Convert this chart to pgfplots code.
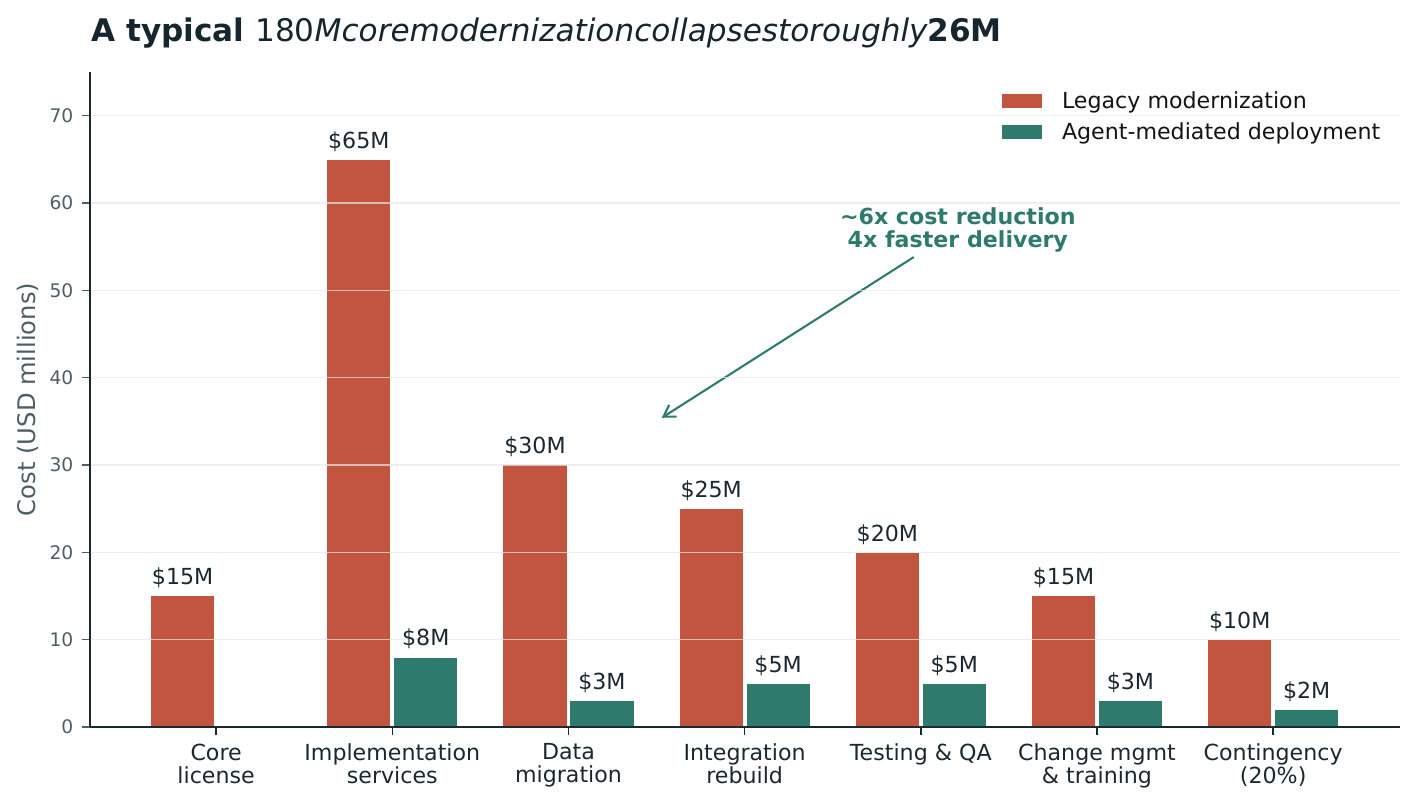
\documentclass[border=0pt]{standalone}
\usepackage{fontspec}
\setmainfont{DejaVu Sans}
\usepackage{pgfplots}
\pgfplotsset{compat=1.18}
\usetikzlibrary{arrows.meta}
\definecolor{legacy}{HTML}{C1553F}
\definecolor{agent}{HTML}{2E7B6E}
\definecolor{ink}{HTML}{1B2830}
\definecolor{titleink}{HTML}{16262E}
\definecolor{tickgray}{HTML}{4E5E66}
\begin{document}
\begin{tikzpicture}
\begin{axis}[
  scale only axis, width=943.2bp, height=471.6bp,
  xmin=-0.716, xmax=6.72, ymin=0, ymax=75,
  axis x line*=bottom, axis y line*=left,
  axis line style={draw=ink, line width=1.1bp},
  ytick={0,10,...,70}, xtick={0,...,6},
  xticklabels={Core\\license, Implementation\\services, Data\\migration, Integration\\rebuild, Testing \& QA, Change mgmt\\\& training, Contingency\\(20\%)},
  xticklabel style={align=center, font=\fontsize{16}{16.6}\selectfont, text=ink, yshift=-2.5bp},
  yticklabel style={font=\fontsize{13.5}{15}\selectfont, text=tickgray, xshift=-2.5bp},
  /pgf/number format/assume math mode=true,
  tick align=outside, major tick length=6bp,
  x tick style={draw=ink, line width=1bp},
  y tick style={draw=tickgray, line width=1bp},
  ymajorgrids, major grid style={draw=black!9, line width=1.1bp, opacity=0.7},
  axis on top,
  ylabel={Cost (USD millions)},
  every axis y label/.style={at={(rel axis cs:-0.0473,0.5)}, rotate=90, anchor=center,
    font=\fontsize{17.5}{20}\selectfont, text=tickgray},
  legend cell align=left,
  legend style={draw=none, fill=none, at={(1,1)}, anchor=north east,
    xshift=-9bp, yshift=-10bp, font=\fontsize{16}{19}\selectfont, text=black!92,
    row sep=4.5bp},
  legend image code/.code={\fill[#1, draw=none] (0bp,-5bp) rectangle (28.8bp,5bp);
    \path[draw=none, fill=none] (0bp,0bp) -- (41bp,0bp);},
  nodes near coords={\$\pgfmathprintnumber{\pgfplotspointmeta}M},
  every node near coord/.append style={anchor=base, yshift=8bp,
    font=\fontsize{16}{19}\selectfont, text=ink},
]
\addplot[ybar, fill=legacy, draw=white, line width=0.8bp, bar width=0.365, bar shift=-0.19,
  every node near coord/.append style={xshift=-24.1bp}]
  coordinates {(0,15) (1,65) (2,30) (3,25) (4,20) (5,15) (6,10)};
\addlegendentry{Legacy modernization}
\addplot[ybar, fill=agent, draw=white, line width=0.8bp, bar width=0.365, bar shift=0.19,
  every node near coord/.append style={xshift=24.1bp}]
  coordinates {(1,8) (2,3) (3,5) (4,5) (5,3) (6,2)};
\addlegendentry{Agent-mediated deployment}

\draw[agent, line width=1.5bp, -{Straight Barb[length=8bp, width=10bp]}]
  (axis cs:3.96,53.8) -- (axis cs:2.53,35.4);
\node[anchor=south, align=center, font=\bfseries\fontsize{16}{16.6}\selectfont, text=agent]
  at (axis cs:4.21,53.8) {\textasciitilde 6x cost reduction\\4x faster delivery};

\coordinate (bl) at (rel axis cs:0,0);
\coordinate (tl) at (rel axis cs:0,1);
\coordinate (tr) at (rel axis cs:1,1);
\end{axis}
\node[anchor=base west, inner sep=0pt, font=\fontsize{22.5}{26}\selectfont, text=titleink]
  at ([shift={(0.7bp,22bp)}]tl)
  {{\bfseries A typical }180{\itshape Mcoremodernizationcollapsestoroughly}{\bfseries 26M}};
\pgfresetboundingbox
\path[use as bounding box] ([shift={(-64.8bp,-54bp)}]bl) rectangle ([shift={(10.8bp,51.8bp)}]tr);
\end{tikzpicture}
\end{document}
